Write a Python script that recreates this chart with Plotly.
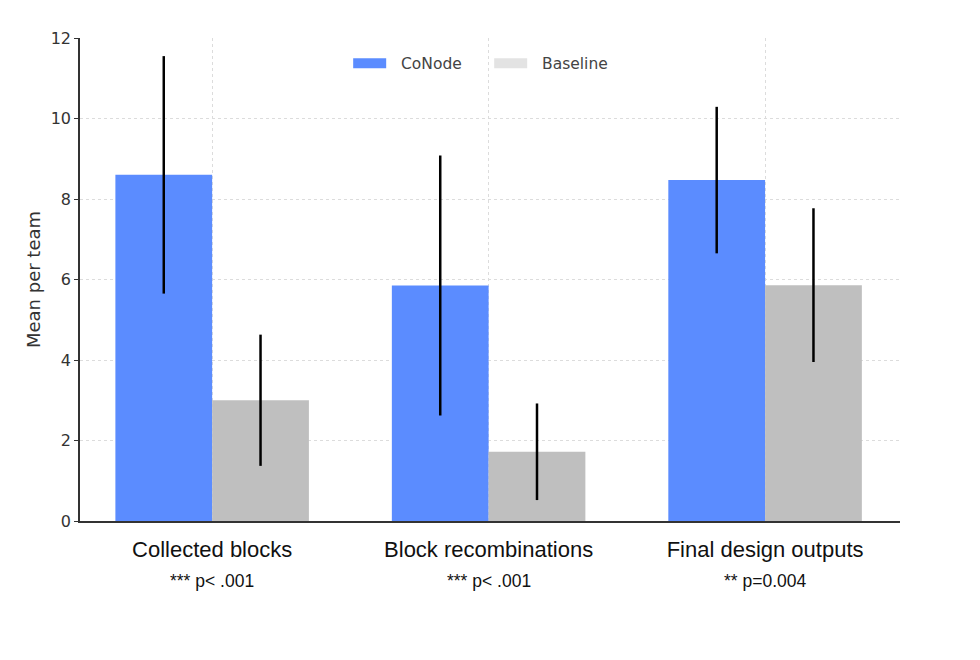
import plotly.graph_objects as go

categories = ["Collected blocks", "Block recombinations", "Final design outputs"]
p_labels = ["*** p< .001", "*** p< .001", "** p=0.004"]
conode_mean = [8.6, 5.85, 8.47]
conode_err = [2.95, 3.23, 1.82]
baseline_mean = [3.0, 1.72, 5.86]
baseline_err = [1.63, 1.2, 1.91]

blue = "#5b8cff"
grey = "#bfbfbf"
grey_legend = "#e3e3e3"

x = list(range(len(categories)))

fig = go.Figure()
fig.add_trace(go.Bar(x=x, y=conode_mean, name="CoNode", marker_color=blue,
                     marker_line_width=0, showlegend=False, offsetgroup="a",
                     error_y=dict(type="data", array=conode_err, color="black", thickness=2.5, width=0)))
fig.add_trace(go.Bar(x=x, y=baseline_mean, name="Baseline", marker_color=grey,
                     marker_line_width=0, showlegend=False, offsetgroup="b",
                     error_y=dict(type="data", array=baseline_err, color="black", thickness=2.5, width=0)))
# legend entries (wide rectangular swatches)
fig.add_trace(go.Scatter(x=[None], y=[None], name="\u00a0\u00a0CoNode", mode="lines",
                         line=dict(color=blue, width=10)))
fig.add_trace(go.Scatter(x=[None], y=[None], name="\u00a0\u00a0Baseline", mode="lines",
                         line=dict(color=grey_legend, width=10)))

for i, p in enumerate(p_labels):
    fig.add_annotation(x=i, y=-0.124, xref="x", yref="paper", text=p, showarrow=False,
                       yanchor="middle",
                       font=dict(family="Liberation Sans, Arial", size=17.5, color="#111"))

fig.update_layout(
    width=980, height=660,
    margin=dict(l=80, r=80, t=38, b=139),
    paper_bgcolor="white", plot_bgcolor="white",
    barmode="group", bargap=0.3, bargroupgap=0,
    font=dict(family="DejaVu Sans", color="#333"),
    legend=dict(orientation="h", x=0.499, xanchor="center", y=0.982, yanchor="top",
                font=dict(size=15.5, color="#444"), bgcolor="rgba(0,0,0,0)",
                itemwidth=33, entrywidth=93, entrywidthmode="pixels",
                traceorder="normal"),
    showlegend=True,
)
fig.update_xaxes(
    tickmode="array", tickvals=x, ticktext=categories, range=[-0.478, 2.488],
    tickfont=dict(family="Liberation Sans, Arial", size=22, color="#111"),
    showline=True, linecolor="#333", linewidth=1.5,
    showgrid=True, gridcolor="#dcdcdc", griddash="3px,3px", gridwidth=1,
    ticks="", ticklabelstandoff=8, zeroline=False,
)
fig.update_yaxes(
    range=[0, 12], tickvals=[0, 2, 4, 6, 8, 10, 12],
    tickfont=dict(size=16, color="#333"),
    title=dict(text="Mean per team", font=dict(size=18, color="#333"), standoff=5),
    showline=True, linecolor="#333", linewidth=1.5,
    showgrid=True, gridcolor="#dcdcdc", griddash="3px,3px", gridwidth=1,
    ticks="outside", ticklen=4, tickcolor="#333", zeroline=False,
)
fig.write_html("out.html")
